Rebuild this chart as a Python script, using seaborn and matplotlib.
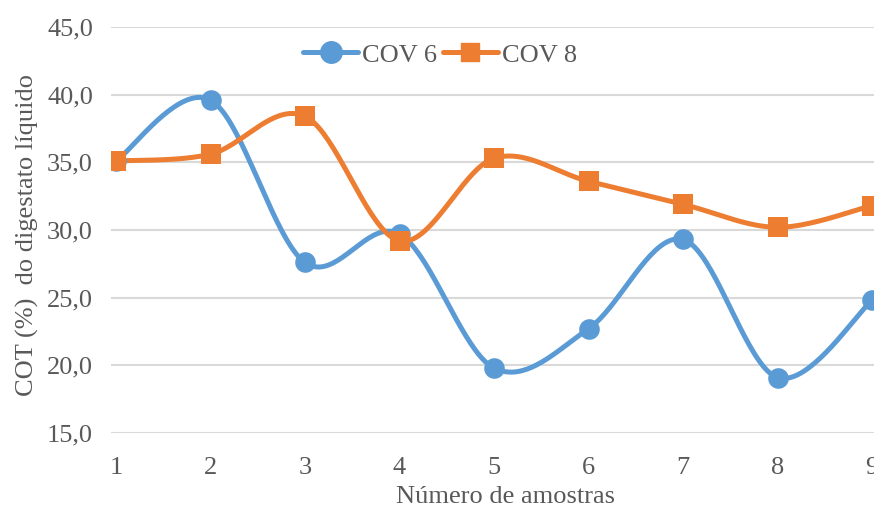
import numpy as np
import pandas as pd
import matplotlib
matplotlib.use("Agg")
import matplotlib.pyplot as plt
from matplotlib.lines import Line2D
import seaborn as sns

amostras = [1, 2, 3, 4, 5, 6, 7, 8, 9]
cov6 = [35.1, 39.6, 27.6, 29.7, 19.8, 22.7, 29.3, 19.1, 24.8]
cov8 = [35.1, 35.6, 38.4, 29.2, 35.3, 33.6, 31.9, 30.2, 31.8]
series_names = ["COV 6", "COV 8"]
yticks = [15, 20, 25, 30, 35, 40, 45]

BLUE = "#5B9BD5"
ORANGE = "#ED7D31"
GRAY = "#595959"
FS = 19


def smooth(xs, ys, n=40):
    """Excel-like smoothed line (Catmull-Rom Bezier through the points)."""
    P = np.column_stack([xs, ys]).astype(float)
    out = []
    for i in range(len(P) - 1):
        p0 = P[i - 1] if i > 0 else P[i]
        p1 = P[i]
        p2 = P[i + 1]
        p3 = P[i + 2] if i + 2 < len(P) else P[i + 1]
        c1 = p1 + (p2 - p0) / 6.0
        c2 = p2 - (p3 - p1) / 6.0
        t = np.linspace(0, 1, n, endpoint=(i == len(P) - 2))[:, None]
        seg = ((1 - t) ** 3) * p1 + 3 * ((1 - t) ** 2) * t * c1 + 3 * (1 - t) * t ** 2 * c2 + t ** 3 * p2
        out.append(seg)
    return np.vstack(out)


sns.set_theme(style="white")
plt.rcParams["font.family"] = ["Liberation Serif", "DejaVu Serif"]

fig = plt.figure(figsize=(8.74, 5.09), dpi=100)
W, H = 874, 509
left_px, right_px = 111, 900
top_px, bot_px = 27, 433
ax = fig.add_axes([left_px / W, (H - bot_px) / H, (right_px - left_px) / W, (bot_px - top_px) / H])

rows = []
for name, vals in zip(series_names, [cov6, cov8]):
    s = smooth(amostras, vals)
    for x, y in s:
        rows.append({"x": x, "y": y, "serie": name})
curve = pd.DataFrame(rows)
pts = pd.DataFrame({"x": amostras * 2, "y": cov6 + cov8,
                    "serie": ["COV 6"] * len(amostras) + ["COV 8"] * len(amostras)})

pal = {"COV 6": BLUE, "COV 8": ORANGE}
for name, mk in zip(series_names, ["o", "s"]):
    sub = curve[curve.serie == name]
    ax.plot(sub.x, sub.y, color=pal[name], lw=3.6, solid_capstyle="round", zorder=3)
    psub = pts[pts.serie == name]
    sns.scatterplot(data=psub, x="x", y="y", color=pal[name], marker=mk,
                    s=220 if mk == "o" else 210, linewidth=0, ax=ax, zorder=4, legend=False)

# x scale: x=1 at px 116, x=9 at px 872
scale = (872 - 116) / 8
x0 = 1 - (116 - left_px) / scale
x1 = x0 + (right_px - left_px) / scale
ax.set_xlim(x0, x1)
ax.set_ylim(15, 45)
ax.set_yticks(yticks)
ax.set_yticklabels([f"{v:.1f}".replace(".", ",") for v in yticks])
ax.set_xticks(amostras)
ax.set_xticklabels([str(a) for a in amostras])
ax.tick_params(axis="both", length=0, labelsize=FS, labelcolor=GRAY)
ax.tick_params(axis="y", pad=13)
ax.tick_params(axis="x", pad=17)
ax.grid(axis="y", color="#D9D9D9", lw=1.5)
ax.grid(axis="x", visible=False)
for sp in ax.spines.values():
    sp.set_visible(False)
ax.set_axisbelow(True)

ax.set_xlabel("Número de amostras", fontsize=FS, color=GRAY, labelpad=5)
ax.set_ylabel("COT (%)  do digestato líquido", fontsize=FS, color=GRAY, labelpad=6)
ax.yaxis.label.set_y((bot_px - 235) / (bot_px - top_px))

handles = [Line2D([], [], color=BLUE, lw=3.6, marker="o", markersize=15.5),
           Line2D([], [], color=ORANGE, lw=3.6, marker="s", markersize=13)]
leg = ax.legend(handles, series_names, loc="center",
                bbox_to_anchor=((440 - left_px) / (right_px - left_px), (bot_px - 55) / (bot_px - top_px)),
                ncol=2, frameon=False, fontsize=FS, handlelength=2.1, handletextpad=0.15,
                columnspacing=0.2, borderaxespad=0, borderpad=0)
for t in leg.get_texts():
    t.set_color(GRAY)

fig.savefig("out.png", dpi=100)
